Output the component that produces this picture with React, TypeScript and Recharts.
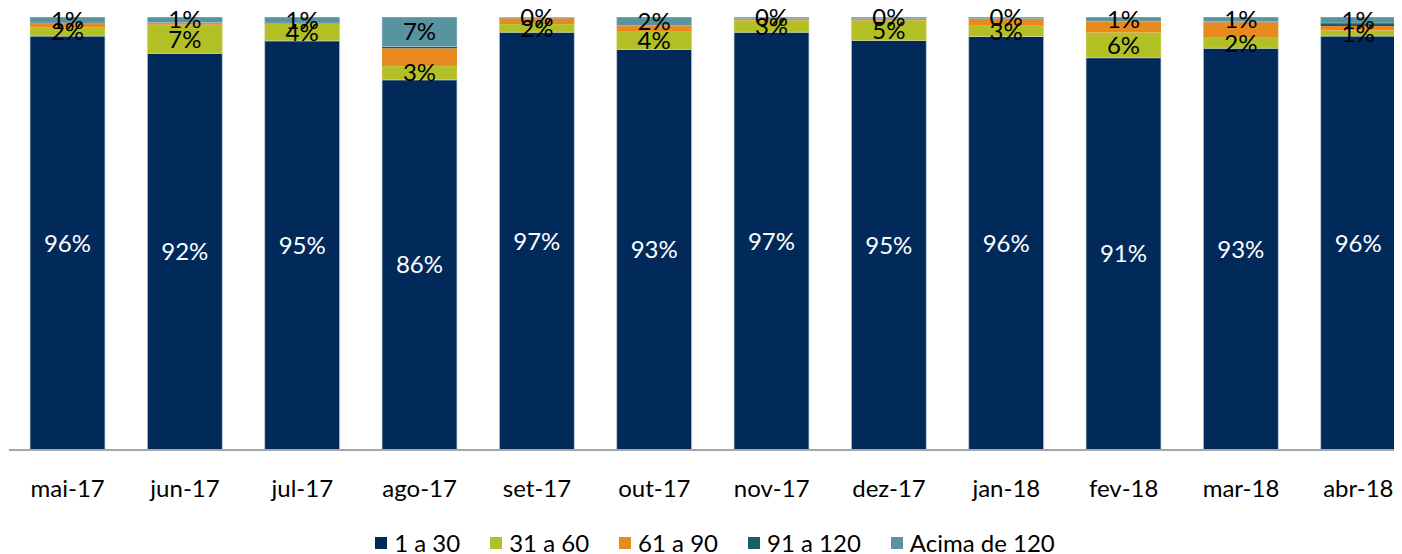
import { Bar, BarChart, LabelList, Legend, XAxis, YAxis } from "recharts";

const months = ["mai-17", "jun-17", "jul-17", "ago-17", "set-17", "out-17", "nov-17", "dez-17", "jan-18", "fev-18", "mar-18", "abr-18"];
const d1a30 = [95.6, 91.6, 94.5, 85.5, 96.5, 92.5, 96.5, 94.6, 95.5, 90.6, 92.8, 95.6];
const d31a60 = [2.0, 6.6, 4.0, 3.2, 1.9, 4.1, 2.7, 4.6, 2.5, 5.8, 2.4, 1.3];
const d61a90 = [0.9, 0.4, 0.0, 4.1, 1.3, 1.3, 0.4, 0.4, 1.6, 2.5, 3.6, 1.0];
const d91a120 = [0.1, 0.1, 0.1, 0.4, 0.1, 0.1, 0.1, 0.1, 0.1, 0.1, 0.1, 0.7];
const dAcima120 = [1.4, 1.3, 1.4, 6.8, 0.2, 2.0, 0.3, 0.3, 0.3, 1.0, 1.1, 1.4];

const series = [
  { key: "a", name: "1 a 30", color: "#012a5b" },
  { key: "b", name: "31 a 60", color: "#b2c026" },
  { key: "c", name: "61 a 90", color: "#e88a1e" },
  { key: "d", name: "91 a 120", color: "#185f6c" },
  { key: "e", name: "Acima de 120", color: "#5893a0" },
];

const data = months.map((m, i) => ({
  month: m,
  a: d1a30[i],
  b: d31a60[i],
  c: d61a90[i],
  d: d91a120[i],
  e: dAcima120[i],
}));

const FONT = "Lato, 'Open Sans', sans-serif";
const pct = (v: any) => `${Math.round(Number(v))}%`;

// legend drawn by hand so spacing matches the original
const LegendBox = () => (
  <div
    style={{
      display: "flex",
      justifyContent: "center",
      alignItems: "center",
      height: 22,
      paddingTop: 6,
      fontFamily: FONT,
      fontSize: 24,
      color: "#000",
      paddingLeft: 24,
    }}
  >
    {series.map((s) => (
      <div key={s.key} style={{ display: "flex", alignItems: "center", marginRight: 30 }}>
        <span style={{ display: "inline-block", width: 12, height: 12, background: s.color, marginRight: 7 }} />
        <span style={{ lineHeight: "22px", whiteSpace: "nowrap" }}>{s.name}</span>
      </div>
    ))}
  </div>
);

export default function App() {
  return (
    <div style={{ width: 1394, height: 546, overflow: "hidden" }}>
      <BarChart
        width={1420}
        height={546}
        data={data}
        margin={{ top: 9, right: 11, left: 1, bottom: 0 }}
        barSize={75}
      >
        <XAxis
          dataKey="month"
          height={76}
          tickLine={false}
          tickSize={0}
          tickMargin={30}
          axisLine={{ stroke: "#a6a6a6", strokeWidth: 2 }}
          tick={{ fill: "#000", fontSize: 24, fontFamily: FONT }}
          interval={0}
        />
        <YAxis hide domain={[0, 100]} allowDataOverflow />
        <Legend verticalAlign="bottom" content={LegendBox} wrapperStyle={{ left: 0, width: 1420 }} />
        <Bar dataKey="a" name="1 a 30" stackId="s" fill="#012a5b" stroke="#c5d3df" strokeWidth={0.8} isAnimationActive={false}>
          <LabelList dataKey="a" position="center" formatter={pct} fill="#fff" fontSize={24} fontFamily={FONT} />
        </Bar>
        <Bar dataKey="b" name="31 a 60" stackId="s" fill="#b2c026" stroke="#d8e0a0" strokeWidth={0.5} isAnimationActive={false}>
          <LabelList dataKey="b" position="center" formatter={pct} fill="#000" fontSize={24} fontFamily={FONT} />
        </Bar>
        <Bar dataKey="c" name="61 a 90" stackId="s" fill="#e88a1e" isAnimationActive={false} />
        <Bar dataKey="d" name="91 a 120" stackId="s" fill="#185f6c" isAnimationActive={false} />
        <Bar dataKey="e" name="Acima de 120" stackId="s" fill="#5893a0" stroke="#c5d8de" strokeWidth={0.5} isAnimationActive={false}>
          <LabelList dataKey="e" position="center" formatter={pct} fill="#000" fontSize={24} fontFamily={FONT} />
        </Bar>
      </BarChart>
    </div>
  );
}
